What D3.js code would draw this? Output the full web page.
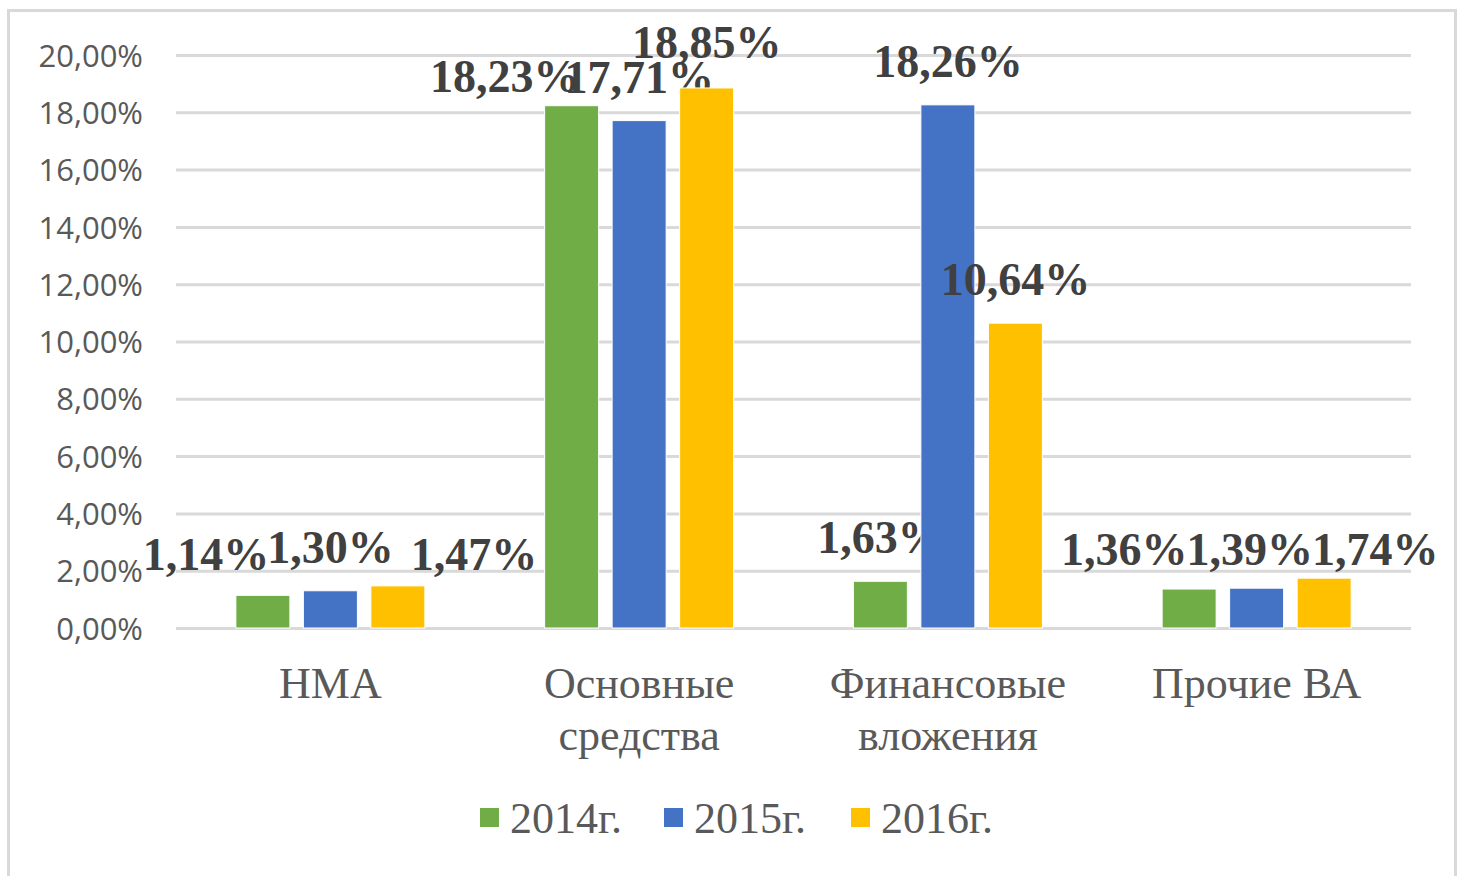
<!DOCTYPE html>
<html>
<head>
<meta charset="utf-8">
<script src="https://cdn.jsdelivr.net/npm/d3@7"></script>
<style>
  body { margin: 0; background: #fff; }
  svg { display: block; }
</style>
</head>
<body>
<svg id="chart" width="1465" height="876"></svg>
<script>
// data
var categories = [["НМА"], ["Основные", "средства"], ["Финансовые", "вложения"], ["Прочие ВА"]];
var seriesNames = ["2014г.", "2015г.", "2016г."];
var values2014 = [1.14, 18.23, 1.63, 1.36];
var values2015 = [1.30, 17.71, 18.26, 1.39];
var values2016 = [1.47, 18.85, 10.64, 1.74];
var yTicks = [0, 2, 4, 6, 8, 10, 12, 14, 16, 18, 20];
var colors = ["#70AD47", "#4472C4", "#FFC000"];

// label nudges (the labels were dragged by hand in the original)
var labelShift = [
  [[-57, 3], [-67, 14], [0, 0], [-65, 4]],
  [[0, 0], [0, 0], [0, 0], [-7, 5]],
  [[76, 12], [0, -2], [0, 0], [51, 15]]
];

var svg = d3.select("#chart");
var margin = {left: 176, right: 1411, top: 55, bottom: 628};
var allSeries = [values2014, values2015, values2016];

// chart frame
svg.append("rect")
  .attr("x", 8.5).attr("y", 10.5)
  .attr("width", 1447).attr("height", 900)
  .attr("fill", "#fff")
  .attr("stroke", "#d9d9d9").attr("stroke-width", 3);

var y = d3.scaleLinear().domain([0, 20]).range([margin.bottom, margin.top]);
var x0 = d3.scaleBand().domain(d3.range(categories.length))
  .range([margin.left, margin.right]);
var x1 = d3.scaleBand().domain(d3.range(seriesNames.length))
  .range([-94.5, 94.5]).paddingInner(0.2).paddingOuter(0);

// gridlines + tick labels
var yAxis = d3.axisLeft(y).tickValues(yTicks)
  .tickSize(-(margin.right - margin.left))
  .tickFormat(function(d){ return d3.format(".2f")(d).replace(".", ",") + "%"; });

var gAxis = svg.append("g")
  .attr("transform", "translate(" + margin.left + ",0)")
  .call(yAxis);
gAxis.select(".domain").remove();
gAxis.selectAll(".tick line").attr("stroke", "#d9d9d9").attr("stroke-width", 3);
gAxis.selectAll(".tick text")
  .attr("x", -33).attr("dy", "0.36em")
  .attr("fill", "#595959")
  .style("font-family", "'Open Sans', sans-serif")
  .style("font-size", "31px");

// bars
var groups = svg.append("g").selectAll("g")
  .data(allSeries).join("g")
  .attr("fill", function(d, i){ return colors[i]; });

groups.each(function(vals, si){
  var g = d3.select(this);
  g.selectAll("rect").data(vals).join("rect")
    .attr("x", function(d, ci){ return x0(ci) + x0.bandwidth() / 2 + x1(si); })
    .attr("y", function(d){ return y(d); })
    .attr("width", x1.bandwidth())
    .attr("height", function(d){ return y(0) - y(d); })
    .attr("stroke", "#fff").attr("stroke-width", 1);
});

// data labels
groups.each(function(vals, si){
  d3.select(this).selectAll("text").data(vals).join("text")
    .attr("x", function(d, ci){
      return x0(ci) + x0.bandwidth() / 2 + x1(si) + x1.bandwidth() / 2 + labelShift[si][ci][0];
    })
    .attr("y", function(d, ci){ return y(d) - 28 + labelShift[si][ci][1]; })
    .attr("text-anchor", "middle")
    .attr("fill", "#404040")
    .style("font-family", "'Liberation Serif', 'Times New Roman', serif")
    .style("font-weight", "bold")
    .style("font-size", "46px")
    .text(function(d){ return d3.format(".2f")(d).replace(".", ",") + "%"; });
});

// category labels
var cat = svg.append("g").selectAll("text")
  .data(categories).join("text")
  .attr("x", function(d, i){ return x0(i) + x0.bandwidth() / 2; })
  .attr("y", 698)
  .attr("text-anchor", "middle")
  .attr("fill", "#595959")
  .style("font-family", "'Liberation Serif', 'Times New Roman', serif")
  .style("font-size", "44px");
cat.selectAll("tspan").data(function(d){ return d; }).join("tspan")
  .attr("x", function(){ return this.parentNode.getAttribute("x"); })
  .attr("dy", function(d, i){ return i === 0 ? 0 : 52; })
  .text(function(d){ return d; });

// legend
var legendX = [480, 664, 851];
var legend = svg.append("g").selectAll("g")
  .data(seriesNames).join("g")
  .attr("transform", function(d, i){ return "translate(" + legendX[i] + ",808)"; });
legend.append("rect")
  .attr("width", 19).attr("height", 19)
  .attr("fill", function(d, i){ return colors[i]; });
legend.append("text")
  .attr("x", 30).attr("y", 25)
  .attr("fill", "#595959")
  .style("font-family", "'Liberation Serif', 'Times New Roman', serif")
  .style("font-size", "44px")
  .text(function(d){ return d; });
</script>
</body>
</html>
